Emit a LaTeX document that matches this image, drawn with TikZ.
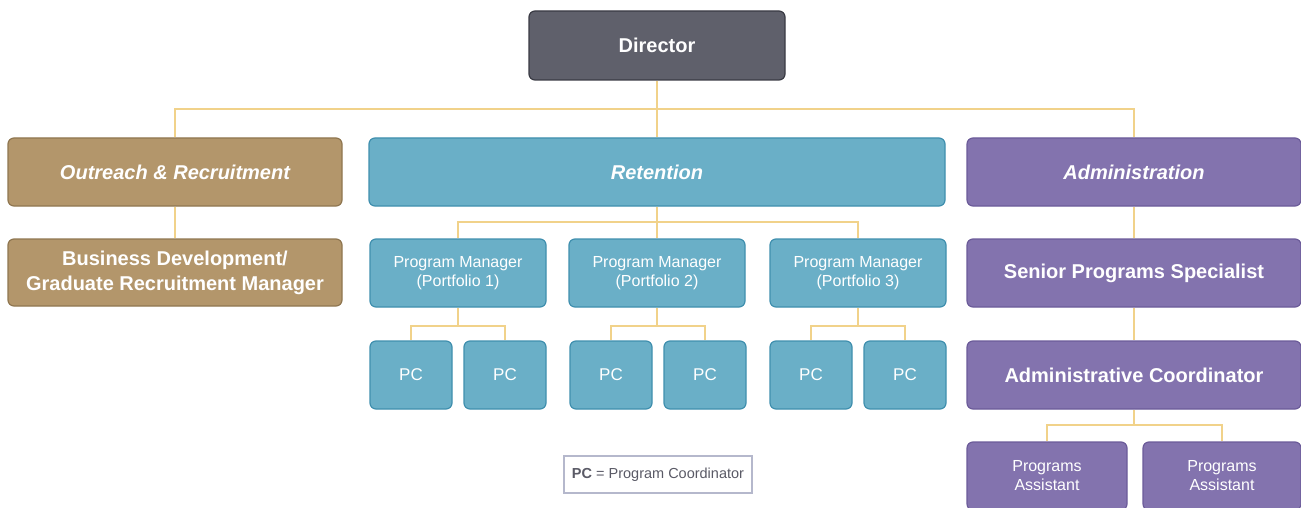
\documentclass[tikz,border=0pt]{standalone}
\usepackage{fontspec}
\setmainfont{Liberation Sans}
\definecolor{dirF}{HTML}{5F606B}\definecolor{dirD}{HTML}{3A3B44}
\definecolor{golF}{HTML}{B3966B}\definecolor{golD}{HTML}{8F7650}
\definecolor{bluF}{HTML}{6AAFC7}\definecolor{bluD}{HTML}{3F8FAE}
\definecolor{purF}{HTML}{8373AE}\definecolor{purD}{HTML}{6B5B99}
\definecolor{lnC}{HTML}{F1D28A}
\definecolor{lgB}{HTML}{B5B8CC}\definecolor{lgT}{HTML}{5A5A66}
\begin{document}
\begin{tikzpicture}[x=1pt,y=-1pt,
  box/.style={rounded corners=6pt, draw, line width=1.2pt, inner sep=0pt, align=center, text=white},
  dirbox/.style={box, fill=dirF, draw=dirD, font=\fontsize{20}{24}\selectfont\bfseries},
  golbox/.style={box, fill=golF, draw=golD},
  blubox/.style={box, fill=bluF, draw=bluD},
  purbox/.style={box, fill=purF, draw=purD},
  head/.style={font=\fontsize{20}{24}\selectfont\bfseries\itshape},
  big/.style={font=\fontsize{20}{25}\selectfont\bfseries},
  small/.style={font=\fontsize{16}{19}\selectfont},
  pc/.style={font=\fontsize{17}{20}\selectfont},
  link/.style={draw=lnC, line width=1.5pt}]
\useasboundingbox (0,0) rectangle (1301,508);
\clip (0,0) rectangle (1301,508);
% connectors' junction points
\coordinate (bus) at (657,109);
\coordinate (rbus) at (657,222);
\coordinate (b1) at (458,326);
\coordinate (b2) at (657,326);
\coordinate (b3) at (858,326);
\coordinate (abus) at (1134,425);
% top
\node[dirbox, minimum width=256pt, minimum height=69pt] (dir) at (657,45.5) {Director};
\node[golbox, head, minimum width=334pt, minimum height=68pt] (out) at (175,172) {Outreach \& Recruitment};
\node[blubox, head, minimum width=576pt, minimum height=68pt] (ret) at (657,172) {Retention};
\node[purbox, head, minimum width=334pt, minimum height=68pt] (adm) at (1134,172) {Administration};
% outreach
\node[golbox, big, minimum width=334pt, minimum height=67pt] (bdm) at (175,272.5) {Business Development/\\Graduate Recruitment Manager};
% retention
\node[blubox, small, minimum width=176pt, minimum height=68pt] (pm1) at (458,273) {Program Manager\\(Portfolio 1)};
\node[blubox, small, minimum width=176pt, minimum height=68pt] (pm2) at (657,273) {Program Manager\\(Portfolio 2)};
\node[blubox, small, minimum width=176pt, minimum height=68pt] (pm3) at (858,273) {Program Manager\\(Portfolio 3)};
\node[blubox, pc, minimum width=82pt, minimum height=68pt] (pc1) at (411,375) {PC};
\node[blubox, pc, minimum width=82pt, minimum height=68pt] (pc2) at (505,375) {PC};
\node[blubox, pc, minimum width=82pt, minimum height=68pt] (pc3) at (611,375) {PC};
\node[blubox, pc, minimum width=82pt, minimum height=68pt] (pc4) at (705,375) {PC};
\node[blubox, pc, minimum width=82pt, minimum height=68pt] (pc5) at (811,375) {PC};
\node[blubox, pc, minimum width=82pt, minimum height=68pt] (pc6) at (905,375) {PC};
% administration
\node[purbox, big, minimum width=334pt, minimum height=68pt] (sps) at (1134,273) {Senior Programs Specialist};
\node[purbox, big, minimum width=334pt, minimum height=68pt] (ac) at (1134,375) {Administrative Coordinator};
\node[purbox, small, minimum width=160pt, minimum height=68pt] (pa1) at (1047,476) {Programs\\Assistant};
\node[purbox, small, minimum width=158pt, minimum height=68pt] (pa2) at (1222,476) {Programs\\Assistant};
% legend
\node[draw=lgB, line width=1.2pt, fill=white, minimum width=188pt, minimum height=37pt, inner sep=0pt, text=lgT, font=\fontsize{14.5}{17}\selectfont] (leg) at (658,474.5) {\textbf{PC} = Program Coordinator};
% connectors
\path[link] (dir.south) -- (ret.north);
\path[link] (out.north) |- (bus) -| (adm.north);
\path[link] (out.south) -- (bdm.north);
\path[link] (ret.south) -- (pm2.north);
\path[link] (pm1.north) |- (rbus) -| (pm3.north);
\path[link] (pm1.south) -- (b1);
\path[link] (pc1.north) |- (b1) -| (pc2.north);
\path[link] (pm2.south) -- (b2);
\path[link] (pc3.north) |- (b2) -| (pc4.north);
\path[link] (pm3.south) -- (b3);
\path[link] (pc5.north) |- (b3) -| (pc6.north);
\path[link] (adm.south) -- (sps.north);
\path[link] (sps.south) -- (ac.north);
\path[link] (ac.south) -- (abus);
\path[link] (pa1.north) |- (abus) -| (pa2.north);
\end{tikzpicture}
\end{document}
